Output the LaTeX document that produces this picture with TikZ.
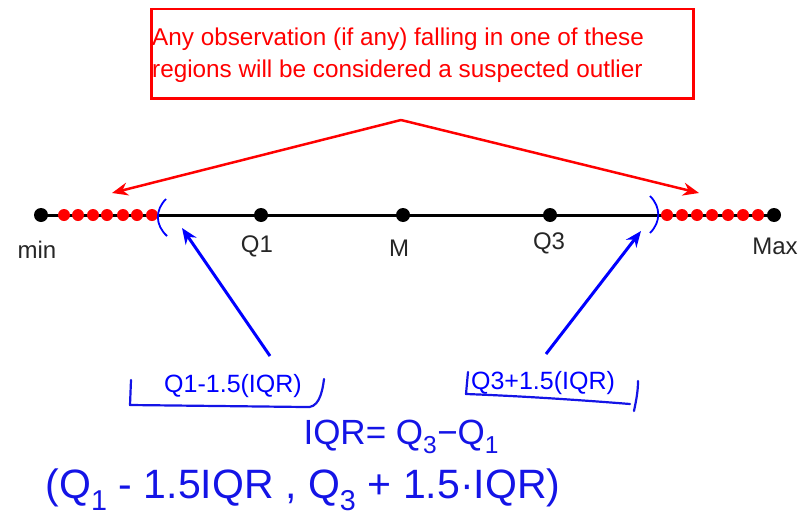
\documentclass[tikz,border=0pt]{standalone}
\usepackage{fontspec}
\setmainfont{Liberation Sans}
\usetikzlibrary{arrows.meta}
\definecolor{hblue}{RGB}{20,20,230}
\tikzset{
  bdot/.style={circle,fill=black,inner sep=0pt,minimum size=14pt},
  rdot/.style={circle,fill=red,inner sep=0pt,minimum size=12pt},
  axislabel/.style={font=\fontsize{24}{26}\selectfont,text=black!85},
  redarrow/.style={draw=red,line width=2.5pt,-{Stealth[length=16pt,width=13pt]}},
  bluearrow/.style={draw=blue,line width=3pt,-{Stealth[length=16pt,width=13pt]}},
  paren/.style={draw=blue,line width=1.8pt},
  hand/.style={draw=hblue,line width=2.2pt,line cap=round,line join=round},
  bluelabel/.style={text=blue,font=\fontsize{25}{27}\selectfont},
  handtext/.style={text=hblue},
}
\begin{document}
\begin{tikzpicture}[x=1pt,y=-1pt]
\useasboundingbox (0,0) rectangle (810,519);
% red box
\node[draw=red,line width=2.5pt,minimum width=542pt,minimum height=89pt,anchor=north west,inner sep=0pt] (box) at (150,8) {};
\node[anchor=west,text=red,font=\fontsize{24.3}{32}\selectfont,align=left,inner sep=0pt] (boxtext) at (152,55)
  {Any observation (if any) falling in one of these\\regions will be considered a suspected outlier};
% number line
\node[bdot] (min) at (41,215) {};
\node[bdot] (q1) at (261,215) {};
\node[bdot] (m) at (403,215) {};
\node[bdot] (q3) at (550,215) {};
\node[bdot] (max) at (774,215) {};
\draw[line width=3pt] (min.center) -- (max.center);
\foreach \x [count=\i] in {64,78,93,107,123,137,152} {\node[rdot] (l\i) at (\x,215) {};}
\foreach \x [count=\i] in {667,682,697,712,728,743,758} {\node[rdot] (r\i) at (\x,215) {};}
% labels
\node[axislabel] (tmin) at (37,250) {min};
\node[axislabel] (tq1) at (257,246) {Q1};
\node[axislabel] (tm) at (399,248) {M};
\node[axislabel] (tq3) at (549,243) {Q3};
\node[axislabel] (tmax) at (775,246) {Max};
% parentheses
\draw[paren] (166,199) .. controls (155,210) and (155,225) .. (167,236);
\draw[paren] (650,196) .. controls (661,207) and (661,222) .. (650,233);
% red arrows
\coordinate (apex) at (401,120);
\coordinate (lend) at (112,193);
\coordinate (rend) at (699,193);
\draw[redarrow] (apex) -- (lend);
\draw[redarrow] (apex) -- (rend);
% blue labels
\node[bluelabel] (lab1) at (233,386) {Q1-1.5(IQR)};
\node[bluelabel] (lab2) at (543,383) {Q3+1.5(IQR)};
\coordinate (b1s) at (270,356);
\coordinate (b1e) at (182,228);
\coordinate (b2s) at (546,354);
\coordinate (b2e) at (641,231);
\draw[bluearrow] (b1s) -- (b1e);
\draw[bluearrow] (b2s) -- (b2e);
% hand-drawn brackets
\draw[hand] (131,380) -- (130,405) -- (305,407) .. controls (318,409) and (322,395) .. (324,379);
\draw[hand] (468,372) -- (466,394) .. controls (520,396) and (580,400) .. (630,404);
\draw[hand] (638,381) .. controls (638,392) and (636,401) .. (634,411);
% handwritten formulas
\node[handtext,anchor=west,font=\fontsize{35}{38}\selectfont] (iqr) at (300,437) {IQR= Q\textsubscript{3}−Q\textsubscript{1}};
\node[handtext,anchor=west,font=\fontsize{41}{44}\selectfont] (interval) at (42,490) {(Q\textsubscript{1} - 1.5IQR , Q\textsubscript{3} + 1.5·IQR)};
\end{tikzpicture}
\end{document}
